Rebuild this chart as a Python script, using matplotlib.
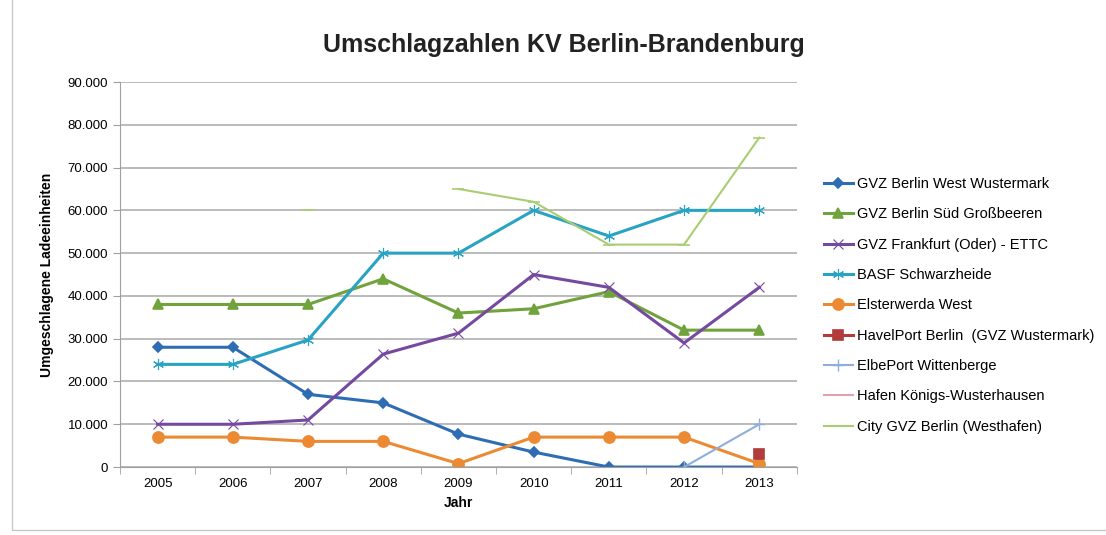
# coding: utf-8

import numpy as np
from matplotlib import pyplot as plt
from matplotlib.ticker import FuncFormatter, MultipleLocator
from matplotlib.patches import Rectangle

nan = np.nan

# データ
years = ['2005', '2006', '2007', '2008', '2009', '2010', '2011', '2012', '2013']

gvz_west = [28000, 28000, 17000, 15000, 7700, 3500, 0, 0, 0]
gvz_sued = [38000, 38000, 38000, 44000, 36000, 37000, 41000, 32000, 32000]
gvz_frankfurt = [10000, 10000, 11000, 26400, 31300, 45000, 42000, 29000, 42000]
basf = [24000, 24000, 29700, 50000, 50000, 60000, 54000, 60000, 60000]
elsterwerda = [7000, 7000, 6000, 6000, 800, 7000, 7000, 7000, 800]
havelport = [nan, nan, nan, nan, nan, nan, nan, nan, 3000]
elbeport = [nan, nan, nan, nan, nan, nan, nan, 0, 10000]
hafen_kw = [nan, nan, nan, nan, nan, nan, nan, nan, nan]
city_gvz = [nan, nan, 60000, nan, 65000, 62000, 52000, 52000, 77000]

# (名前, 値, 色, マーカー, マーカーサイズ, 線幅, マーカー線幅)
series = [
    ('GVZ Berlin West Wustermark', gvz_west, '#2e6db4', 'D', 5, 2.2, 1.2),
    ('GVZ Berlin Süd Großbeeren', gvz_sued, '#71a33c', '^', 7, 2.2, 1.2),
    ('GVZ Frankfurt (Oder) - ETTC', gvz_frankfurt, '#7549a0', 'x', 7, 2.2, 0.8),
    ('BASF Schwarzheide', basf, '#29a3c4', (6, 2, 0), 8, 2.2, 0.8),
    ('Elsterwerda West', elsterwerda, '#ec8a34', 'o', 8, 2.2, 1.2),
    ('HavelPort Berlin  (GVZ Wustermark)', havelport, '#b23b3b', 's', 7, 2.2, 1.2),
    ('ElbePort Wittenberge', elbeport, '#8eaedb', '+', 8, 1.5, 1.0),
    ('Hafen Königs-Wusterhausen', hafen_kw, '#e3a2ab', None, 0, 1.5, 1.0),
    ('City GVZ Berlin (Westhafen)', city_gvz, '#a9cd72', '_', 8, 1.5, 1.2),
]

plt.rcParams['font.family'] = ['Liberation Sans', 'DejaVu Sans']

fig = plt.figure(figsize=(11.06, 5.35), dpi=100)
ax = fig.add_axes([0.1085, 0.127, 0.612, 0.7197])

x = np.arange(len(years))
for name, vals, color, marker, ms, lw, mew in series:
    ax.plot(x, vals, color=color, marker=marker, markersize=ms, linewidth=lw,
            markeredgewidth=mew, label=name)

# 軸の見た目
ax.set_xlim(-0.5, len(years) - 0.5)
ax.set_ylim(0, 90000)
ax.yaxis.set_major_locator(MultipleLocator(10000))
ax.yaxis.set_major_formatter(FuncFormatter(
    lambda v, p: '0' if v == 0 else f'{int(v):,}'.replace(',', '.')))
ax.set_xticks(x)
ax.set_xticklabels(years)
ax.set_xticks(np.arange(-0.5, len(years), 1.0), minor=True)
ax.tick_params(axis='x', which='major', length=0, labelsize=9.5, pad=8)
ax.tick_params(axis='x', which='minor', length=5, color='#a0a0a0')
ax.tick_params(axis='y', length=5, color='#a0a0a0', labelsize=9.5)
ax.grid(axis='y', color='#b5b5b5', linewidth=1.3)
ax.set_axisbelow(True)
for s in ['top', 'right']:
    ax.spines[s].set_visible(False)
ax.spines['left'].set_color('#a0a0a0')
ax.spines['bottom'].set_color('#a0a0a0')

ax.set_xlabel('Jahr', fontsize=10, fontweight='bold', labelpad=4)
ax.set_ylabel('Umgeschlagene Ladeeinheiten', fontsize=10, fontweight='bold', labelpad=10)
fig.text(0.51, 1 - 45 / 535, 'Umschlagzahlen KV Berlin-Brandenburg', ha='center',
         va='center', fontsize=18, fontweight='bold', color='#222222')

ax.legend(loc='center left', bbox_to_anchor=(1.02, 0.42), frameon=False,
          fontsize=10.5, labelspacing=1.12, handlelength=2.0, handletextpad=0.3)

# 枠線
fig.patches.append(Rectangle((12 / 1106, 5 / 535), 1.2, 1.2, transform=fig.transFigure,
                             fill=False, edgecolor='#c8c8c8', linewidth=1))

fig.savefig('out.png', dpi=100)
